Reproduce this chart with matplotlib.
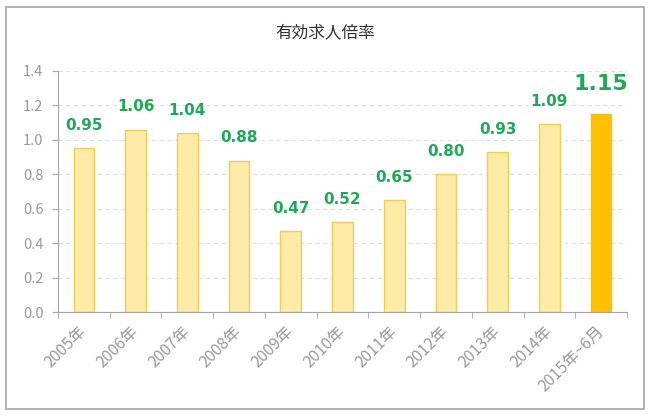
import matplotlib.pyplot as plt
from matplotlib.patches import Rectangle

years = ['2005年', '2006年', '2007年', '2008年', '2009年', '2010年',
         '2011年', '2012年', '2013年', '2014年', '2015年~6月']
ratio = [0.95, 1.06, 1.04, 0.88, 0.47, 0.52, 0.65, 0.80, 0.93, 1.09, 1.15]

plt.rcParams['font.family'] = ['Noto Sans CJK JP', 'DejaVu Sans']

fig = plt.figure(figsize=(6.5, 4.16), dpi=100)
# outer frame
fig.patches.append(Rectangle((6 / 650, 7 / 416), 638 / 650, 402 / 416,
                             transform=fig.transFigure, fill=False,
                             edgecolor='#a6a6a6', linewidth=1.2))
fig.text(0.5, 1 - 33 / 416, '有効求人倍率', ha='center', va='center',
         fontsize=12, color='#333333')

ax = fig.add_axes([58 / 650, 1 - 312 / 416, 569 / 650, 241 / 416])
x = list(range(len(years)))
face = ['#FFEBA8'] * (len(years) - 1) + ['#FFC000']
edge = ['#F2CC4E'] * (len(years) - 1) + ['#FFC000']
ax.bar(x, ratio, width=0.4, color=face, edgecolor=edge, linewidth=1)

for i, v in enumerate(ratio):
    last = i == len(ratio) - 1
    ax.annotate(f'{v:.2f}', (i, v), xytext=(0, 14.5 if last else 11),
                textcoords='offset points', ha='center', va='bottom',
                fontsize=16 if last else 11, fontweight='bold',
                color='#1DAA55', family='DejaVu Sans')

ax.set_xlim(-0.5, len(years) - 0.5)
ax.set_ylim(0, 1.4)
ax.set_yticks([0, 0.2, 0.4, 0.6, 0.8, 1.0, 1.2, 1.4])
ax.set_yticklabels([f'{t:.1f}' for t in ax.get_yticks()])
ax.set_xticks(x)
ax.set_xticklabels(years, rotation=45, ha='right', va='center',
                   rotation_mode='anchor')
ax.set_xticks([i - 0.5 for i in range(len(years) + 1)], minor=True)
ax.tick_params(axis='x', which='major', length=0, pad=12, labelsize=11.5,
               labelcolor='#9a9a9a')
ax.tick_params(axis='x', which='minor', length=4.5, color='#a6a6a6')
ax.tick_params(axis='y', length=4.5, color='#a6a6a6', labelsize=10.5,
               labelcolor='#9a9a9a', pad=6)
ax.yaxis.grid(True, linestyle=(0, (4, 3)), color='#e0e0e0', linewidth=0.8)
ax.set_axisbelow(True)
for s in ['top', 'right']:
    ax.spines[s].set_visible(False)
for s in ['left', 'bottom']:
    ax.spines[s].set_color('#a6a6a6')

fig.savefig('out.png', dpi=100)
